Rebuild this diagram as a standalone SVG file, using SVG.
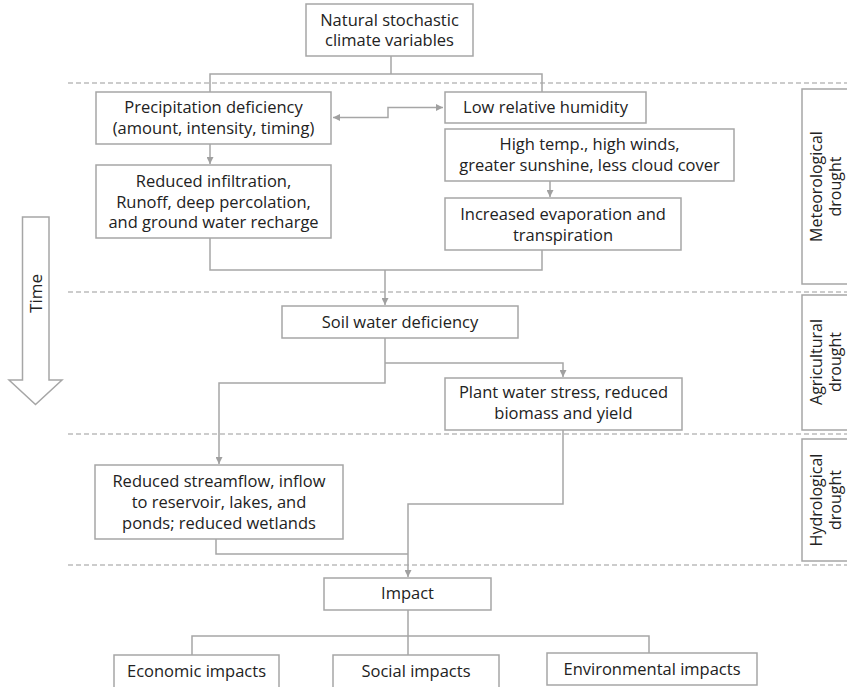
<svg xmlns="http://www.w3.org/2000/svg" width="847" height="687" viewBox="0 0 847 687">
<style>
.box{fill:#fff;stroke:#a6a6a6;stroke-width:1.5}
.t{font-family:"Open Sans","Noto Sans","Liberation Sans",sans-serif;font-size:16.5px;fill:#222;text-anchor:middle}
.r{font-size:16px}
.ln{fill:none;stroke:#a6a6a6;stroke-width:1.5}
.dash{fill:none;stroke:#9a9a9a;stroke-width:1.2;stroke-dasharray:5,3}
</style>
<defs>
<marker id="ah" viewBox="0 0 10 10" refX="10" refY="5" markerWidth="7" markerHeight="7" markerUnits="userSpaceOnUse" orient="auto">
<path d="M0,0 L10,5 L0,10 z" fill="#a0a0a0"/>
</marker>
<marker id="ahs" viewBox="0 0 10 10" refX="0" refY="5" markerWidth="7" markerHeight="7" markerUnits="userSpaceOnUse" orient="auto">
<path d="M10,0 L0,5 L10,10 z" fill="#a0a0a0"/>
</marker>
</defs>
<rect width="847" height="687" fill="#fff"/>

<g id="separators">
<line class="dash" x1="68" y1="83" x2="847" y2="83"/>
<line class="dash" x1="68" y1="292" x2="847" y2="292"/>
<line class="dash" x1="68" y1="434" x2="847" y2="434"/>
<line class="dash" x1="68" y1="565" x2="847" y2="565"/>
</g>

<g id="connectors">
<path class="ln" d="M391,56 V74 M210,92 V74 H542 V92"/>
<path class="ln" d="M333,117.5 H388 V107.5 H443" marker-start="url(#ahs)" marker-end="url(#ah)"/>
<path class="ln" d="M210,144 V164" marker-end="url(#ah)"/>
<path class="ln" d="M550,181 V197" marker-end="url(#ah)"/>
<path class="ln" d="M210,238 V270 H542 V250"/>
<path class="ln" d="M385,270 V305" marker-end="url(#ah)"/>
<path class="ln" d="M385,338 V383 H219 V464" marker-end="url(#ah)"/>
<path class="ln" d="M385,363 H563 V377" marker-end="url(#ah)"/>
<path class="ln" d="M563,430 V504 H408 V577" marker-end="url(#ah)"/>
<path class="ln" d="M216,539 V554 H408"/>
<path class="ln" d="M408,610 V655 M192,655 V636 H649 V653"/>
</g>

<g id="n-natural">
<rect class="box" x="306" y="4" width="167" height="52"/>
<text class="t" x="389.5" y="26">Natural stochastic</text>
<text class="t" x="389.5" y="46">climate variables</text>
</g>
<g id="n-precip">
<rect class="box" x="96" y="92" width="235" height="52"/>
<text class="t" x="213.5" y="113">Precipitation deficiency</text>
<text class="t" x="213.5" y="134">(amount, intensity, timing)</text>
</g>
<g id="n-infiltration">
<rect class="box" x="96" y="165" width="235" height="73"/>
<text class="t" x="213.5" y="187">Reduced infiltration,</text>
<text class="t" x="213.5" y="207.5">Runoff, deep percolation,</text>
<text class="t" x="213.5" y="228">and ground water recharge</text>
</g>
<g id="n-humidity">
<rect class="box" x="445" y="92" width="201" height="31"/>
<text class="t" x="545.5" y="113">Low relative humidity</text>
</g>
<g id="n-hightemp">
<rect class="box" x="445" y="129" width="289" height="52"/>
<text class="t" x="589.5" y="150">High temp., high winds,</text>
<text class="t" x="589.5" y="171">greater sunshine, less cloud cover</text>
</g>
<g id="n-evaporation">
<rect class="box" x="445" y="198" width="236" height="52"/>
<text class="t" x="563" y="220">Increased evaporation and</text>
<text class="t" x="563" y="241">transpiration</text>
</g>
<g id="n-soil">
<rect class="box" x="282" y="306" width="236" height="32"/>
<text class="t" x="400" y="327.5">Soil water deficiency</text>
</g>
<g id="n-plant">
<rect class="box" x="445" y="378" width="237" height="52"/>
<text class="t" x="563.5" y="398">Plant water stress, reduced</text>
<text class="t" x="563.5" y="419">biomass and yield</text>
</g>
<g id="n-streamflow">
<rect class="box" x="95" y="465" width="248" height="74"/>
<text class="t" x="219" y="487">Reduced streamflow, inflow</text>
<text class="t" x="219" y="508">to reservoir, lakes, and</text>
<text class="t" x="219" y="529">ponds; reduced wetlands</text>
</g>
<g id="n-impact">
<rect class="box" x="324" y="578" width="167" height="32"/>
<text class="t" x="407.5" y="599">Impact</text>
</g>
<g id="n-economic">
<rect class="box" x="114" y="655" width="165" height="40"/>
<text class="t" x="196.5" y="677">Economic impacts</text>
</g>
<g id="n-social">
<rect class="box" x="333" y="655" width="166" height="40"/>
<text class="t" x="416" y="677">Social impacts</text>
</g>
<g id="n-environmental">
<rect class="box" x="547" y="653" width="210" height="32"/>
<text class="t" x="652" y="675">Environmental impacts</text>
</g>

<g id="n-meteorological">
<rect class="box" x="802" y="89" width="60" height="195"/>
<text class="t r" transform="translate(822,186.5) rotate(-90)">Meteorological</text>
<text class="t r" transform="translate(841,186.5) rotate(-90)">drought</text>
</g>
<g id="n-agricultural">
<rect class="box" x="802" y="295" width="60" height="135"/>
<text class="t r" transform="translate(822,362) rotate(-90)">Agricultural</text>
<text class="t r" transform="translate(841,362) rotate(-90)">drought</text>
</g>
<g id="n-hydrological">
<rect class="box" x="802" y="439" width="60" height="122"/>
<text class="t r" transform="translate(822,500) rotate(-90)">Hydrological</text>
<text class="t r" transform="translate(841,500) rotate(-90)">drought</text>
</g>

<g id="n-time">
<path d="M22.5,217 H49 V380 H62 L35.5,404.5 L9,380 H22.5 Z" fill="#fff" stroke="#a6a6a6" stroke-width="1.5"/>
<text class="t" transform="translate(41.5,293.5) rotate(-90)" style="font-size:17px">Time</text>
</g>
</svg>
